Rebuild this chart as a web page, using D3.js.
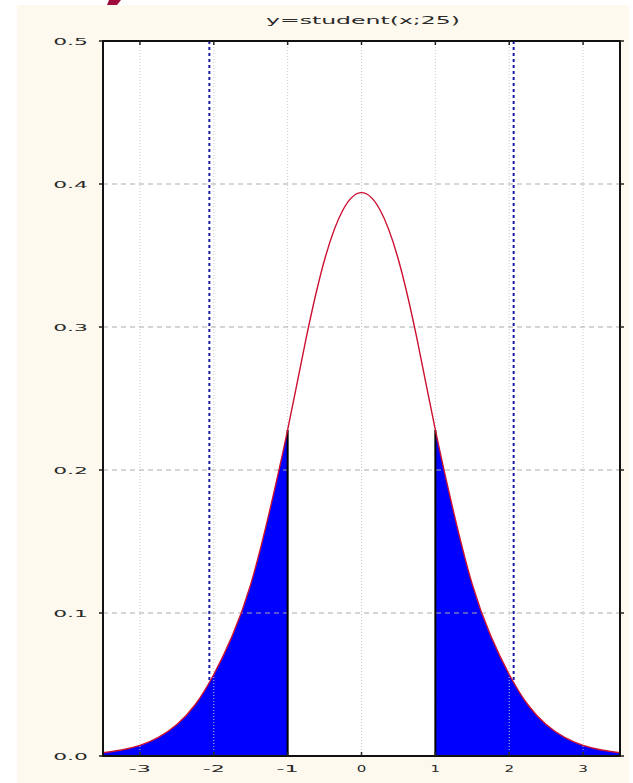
<!DOCTYPE html>
<html>
<head>
<meta charset="utf-8">
<script src="https://cdn.jsdelivr.net/npm/d3@7"></script>
<style>
  html, body { margin: 0; padding: 0; background: #ffffff; }
  svg { display: block; }
  text { font-family: "DejaVu Sans", sans-serif; fill: #2a2a2a; }
</style>
</head>
<body>
<svg id="chart" width="633" height="783"></svg>
<script>
// ---- data ----
const title = "y=student(x;25)";
const xTicks = [-3, -2, -1, 0, 1, 2, 3];
const xTickLabels = ["-3", "-2", "-1", "0", "1", "2", "3"];
const yTicks = [0, 0.1, 0.2, 0.3, 0.4, 0.5];
const yTickLabels = ["0.0", "0.1", "0.2", "0.3", "0.4", "0.5"];
const xValues = [-3.5, -3.25, -3, -2.75, -2.5, -2.25, -2, -1.75, -1.5, -1.25, -1, -0.75, -0.5, -0.25,
                 0, 0.25, 0.5, 0.75, 1, 1.25, 1.5, 1.75, 2, 2.25, 2.5, 2.75, 3, 3.25, 3.5];
const density = [0.0023, 0.0042, 0.0074, 0.0130, 0.0220, 0.0360, 0.0570, 0.0840, 0.1200, 0.1700, 0.2280, 0.2920, 0.3470, 0.3820,
                 0.3940, 0.3820, 0.3470, 0.2920, 0.2280, 0.1700, 0.1200, 0.0840, 0.0570, 0.0360, 0.0220, 0.0130, 0.0074, 0.0042, 0.0023];
const criticalValues = [-2.06, 2.06];
const shadeLimits = [-1, 1];

(function () {
// ---- layout ----
const svg = d3.select("#chart");
const pL = 103, pR = 620, pT = 41, pB = 756;
const x = d3.scaleLinear().domain([-3.5, 3.5]).range([pL, pR]);
const y = d3.scaleLinear().domain([0, 0.5]).range([pB, pT]);
const pts = xValues.map((v, i) => ({x: v, y: density[i]}));

// page background (cream panel)
svg.append("rect").attr("x", 17).attr("y", 5).attr("width", 612).attr("height", 778).attr("fill", "#fdf9ee");
// decorative maroon fragment at top
svg.append("polygon").attr("points", "109,0 121,0 117,5 107,5").attr("fill", "#9e0b3a");

// plot background
svg.append("rect").attr("x", pL).attr("y", pT).attr("width", pR - pL).attr("height", pB - pT).attr("fill", "#ffffff");

// critical value lines (blue dashed)
svg.append("g").selectAll("line").data(criticalValues).join("line")
  .attr("x1", d => x(d)).attr("x2", d => x(d))
  .attr("y1", pT).attr("y2", pB)
  .attr("stroke", "#1a1aa8").attr("stroke-width", 2).attr("stroke-dasharray", "3,3");

// shaded tails
const curve = d3.curveNatural;
const area = d3.area().x(d => x(d.x)).y0(y(0)).y1(d => y(d.y)).curve(curve);
svg.append("path").datum(pts.filter(d => d.x <= shadeLimits[0])).attr("d", area).attr("fill", "#0000ff");
svg.append("path").datum(pts.filter(d => d.x >= shadeLimits[1])).attr("d", area).attr("fill", "#0000ff");

// gridlines
svg.append("g").selectAll("line").data(xTicks).join("line")
  .attr("x1", d => x(d)).attr("x2", d => x(d)).attr("y1", pT).attr("y2", pB)
  .attr("stroke", "#c8c8d0").attr("stroke-width", 1).attr("stroke-dasharray", "1,2");
svg.append("g").selectAll("line").data(yTicks.filter(d => d > 0 && d < 0.5)).join("line")
  .attr("x1", pL).attr("x2", pR).attr("y1", d => y(d)).attr("y2", d => y(d))
  .attr("stroke", "#ababab").attr("stroke-width", 1).attr("stroke-dasharray", "5,4");

// tail edge lines
svg.append("g").selectAll("line").data(shadeLimits).join("line")
  .attr("x1", d => x(d)).attr("x2", d => x(d))
  .attr("y1", y(0)).attr("y2", d => y(density[xValues.indexOf(d)]))
  .attr("stroke", "#000").attr("stroke-width", 2);

// density curve
const line = d3.line().x(d => x(d.x)).y(d => y(d.y)).curve(curve);
svg.append("path").datum(pts).attr("d", line).attr("fill", "none").attr("stroke", "#cc1030").attr("stroke-width", 1.4);

// frame
svg.append("rect").attr("x", pL).attr("y", pT).attr("width", pR - pL).attr("height", pB - pT)
  .attr("fill", "none").attr("stroke", "#111").attr("stroke-width", 2);

// tick marks
svg.append("g").selectAll("line").data(xTicks).join("line")
  .attr("x1", d => x(d)).attr("x2", d => x(d)).attr("y1", pT).attr("y2", pT + 4)
  .attr("stroke", "#222").attr("stroke-width", 1.5);
svg.append("g").selectAll("line").data(xTicks).join("line")
  .attr("x1", d => x(d)).attr("x2", d => x(d)).attr("y1", pB).attr("y2", pB - 4)
  .attr("stroke", "#222").attr("stroke-width", 1.5);
svg.append("g").selectAll("line").data(yTicks).join("line")
  .attr("x1", pL - 4).attr("x2", pL).attr("y1", d => y(d)).attr("y2", d => y(d))
  .attr("stroke", "#222").attr("stroke-width", 1.5);
svg.append("g").selectAll("line").data(yTicks).join("line")
  .attr("x1", pR).attr("x2", pR + 4).attr("y1", d => y(d)).attr("y2", d => y(d))
  .attr("stroke", "#222").attr("stroke-width", 1.5);

// labels (wide pixel-style text)
const charW = 12.6;
svg.append("g").selectAll("text").data(yTicks).join("text")
  .attr("x", (d, i) => 88 - (yTickLabels[i].length * charW - 3))
  .attr("y", d => y(d) + 4)
  .attr("font-size", 9.5)
  .attr("textLength", (d, i) => yTickLabels[i].length * charW - 3)
  .attr("lengthAdjust", "spacingAndGlyphs")
  .text((d, i) => yTickLabels[i]);

svg.append("g").selectAll("text").data(xTicks).join("text")
  .attr("x", (d, i) => x(d) - (xTickLabels[i].length * charW - 3) / 2)
  .attr("y", 772)
  .attr("font-size", 9.5)
  .attr("textLength", (d, i) => xTickLabels[i].length * charW - 3)
  .attr("lengthAdjust", "spacingAndGlyphs")
  .text((d, i) => xTickLabels[i]);

const titleLen = 194;
svg.append("text").attr("x", 363 - titleLen / 2).attr("y", 24)
  .attr("font-size", 10.5)
  .attr("textLength", titleLen).attr("lengthAdjust", "spacingAndGlyphs")
  .text(title);
})();
</script>
</body>
</html>
